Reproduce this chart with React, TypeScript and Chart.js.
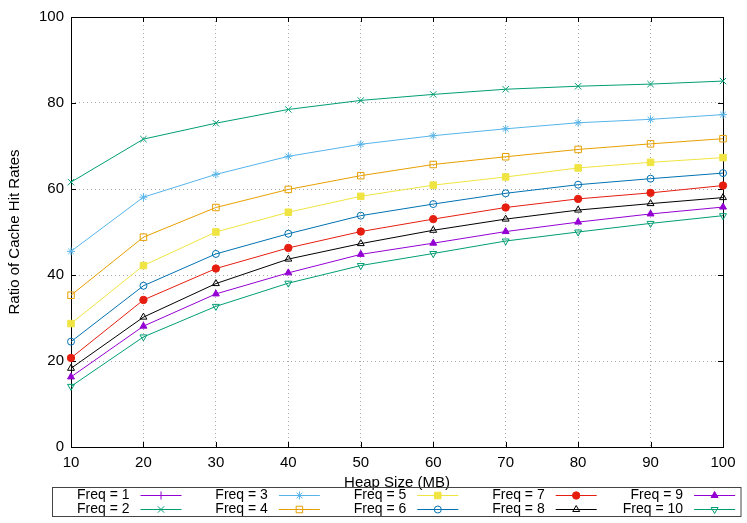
import React, { useRef, useEffect } from 'react'
import { Chart, registerables } from 'chart.js'
import { drawPoint } from 'chart.js/helpers'

Chart.register(...registerables)

// heap sizes in MB (x axis)
const heapSizes = [10, 20, 30, 40, 50, 60, 70, 80, 90, 100]

// cache hit ratios per frequency threshold
const freq1: (number | null)[] = [null, null, null, null, null, null, null, null, null, null]
const freq2 = [61.6, 71.6, 75.3, 78.5, 80.6, 82.0, 83.2, 83.9, 84.4, 85.1]
const freq3 = [45.5, 58.1, 63.4, 67.6, 70.4, 72.4, 74.0, 75.4, 76.2, 77.3]
const freq4 = [35.3, 48.8, 55.7, 59.9, 63.1, 65.7, 67.5, 69.2, 70.5, 71.7]
const freq5 = [28.7, 42.2, 50.0, 54.6, 58.3, 60.9, 62.8, 64.9, 66.2, 67.3]
const freq6 = [24.5, 37.5, 44.9, 49.6, 53.8, 56.5, 59.0, 61.0, 62.4, 63.7]
const freq7 = [20.7, 34.2, 41.5, 46.3, 50.1, 53.0, 55.7, 57.7, 59.1, 60.8]
const freq8 = [18.3, 30.2, 38.0, 43.7, 47.3, 50.4, 53.0, 55.1, 56.6, 58.0]
const freq9 = [16.3, 28.1, 35.6, 40.5, 44.8, 47.4, 50.1, 52.3, 54.2, 55.8]
const freq10 = [14.1, 25.6, 32.7, 38.1, 42.2, 45.0, 47.9, 50.0, 52.0, 53.8]

const yTicks = [0, 20, 40, 60, 80, 100]

const FONT = '"Liberation Sans", Arial, sans-serif'

const mk = (
  label: string,
  data: (number | null)[],
  color: string,
  pointStyle: string,
  filled: boolean,
  radius: number,
  rotation = 0,
) => ({
  label,
  data,
  borderColor: color,
  backgroundColor: color,
  borderWidth: 1,
  pointStyle,
  pointRotation: rotation,
  pointRadius: radius,
  pointBorderWidth: 1,
  pointBorderColor: color,
  pointBackgroundColor: filled ? color : 'rgba(0,0,0,0)',
  tension: 0,
  fill: false,
  clip: false as const,
})

// gnuplot-style legend box under the plot
const legendPlugin = {
  id: 'boxLegend',
  afterDraw(chart: any) {
    const ctx = chart.ctx
    ctx.save()
    ctx.lineWidth = 1
    ctx.strokeStyle = '#444'
    ctx.strokeRect(52.5, 487.5, 688.5, 29)
    ctx.font = `14px ${FONT}`
    ctx.textAlign = 'right'
    ctx.textBaseline = 'middle'
    chart.data.datasets.forEach((ds: any, i: number) => {
      const col = Math.floor(i / 2)
      const row = i % 2
      const xr = 129.5 + col * 138.4
      const y = 495.5 + row * 14
      ctx.fillStyle = '#000'
      ctx.fillText(ds.label, xr, y)
      ctx.strokeStyle = ds.borderColor
      ctx.beginPath()
      ctx.moveTo(xr + 11, y)
      ctx.lineTo(xr + 52, y)
      ctx.stroke()
      ctx.fillStyle = ds.pointBackgroundColor
      ctx.strokeStyle = ds.pointBorderColor
      drawPoint(
        ctx,
        { pointStyle: ds.pointStyle, rotation: ds.pointRotation, radius: ds.pointRadius, borderWidth: 1 } as any,
        xr + 31.5,
        y,
      )
    })
    ctx.restore()
  },
}

// plot border with inward tick marks
const framePlugin = {
  id: 'frame',
  beforeDatasetsDraw(chart: any) {
    const { ctx, chartArea: a, scales } = chart
    ctx.save()
    ctx.strokeStyle = '#000'
    ctx.lineWidth = 1
    const tl = 5
    ctx.beginPath()
    scales.x.ticks.forEach((_t: any, i: number) => {
      const px = Math.round(scales.x.getPixelForTick(i)) + 0.5
      ctx.moveTo(px, a.bottom)
      ctx.lineTo(px, a.bottom - tl)
      ctx.moveTo(px, a.top)
      ctx.lineTo(px, a.top + tl)
    })
    scales.y.ticks.forEach((t: any) => {
      const py = Math.round(scales.y.getPixelForValue(t.value)) + 0.5
      ctx.moveTo(a.left, py)
      ctx.lineTo(a.left + tl, py)
      ctx.moveTo(a.right, py)
      ctx.lineTo(a.right - tl, py)
    })
    ctx.stroke()
    ctx.strokeRect(Math.round(a.left) + 0.5, Math.round(a.top) + 0.5, Math.round(a.right - a.left), Math.round(a.bottom - a.top))
    ctx.restore()
  },
}

export default function App() {
  const chartRef = useRef<HTMLCanvasElement>(null)

  useEffect(() => {
    if (!chartRef.current) return
    const ctx = chartRef.current.getContext('2d')
    if (!ctx) return
    const chart = new Chart(ctx, {
      type: 'line',
      data: {
        labels: heapSizes,
        datasets: [
          mk('Freq = 1', freq1, '#9400d3', 'cross', false, 4),
          mk('Freq = 2', freq2, '#009e73', 'crossRot', false, 4.5),
          mk('Freq = 3', freq3, '#56b4e9', 'star', false, 4),
          mk('Freq = 4', freq4, '#e69f00', 'rect', false, 4.6),
          mk('Freq = 5', freq5, '#f0e442', 'rect', true, 4.6),
          mk('Freq = 6', freq6, '#0072b2', 'circle', false, 3.5),
          mk('Freq = 7', freq7, '#e51e10', 'circle', true, 3.7),
          mk('Freq = 8', freq8, '#000000', 'triangle', false, 4),
          mk('Freq = 9', freq9, '#9400d3', 'triangle', true, 4),
          mk('Freq = 10', freq10, '#009e73', 'triangle', false, 4, 180),
        ] as any,
      },
      options: {
        animation: false,
        responsive: true,
        maintainAspectRatio: false,
        layout: { padding: { top: 17, right: 24, bottom: 31, left: 0 } },
        plugins: {
          legend: { display: false },
          tooltip: { enabled: false },
        },
        scales: {
          x: {
            type: 'category',
            offset: false,
            grid: { color: '#a8a8a8', drawTicks: false },
            border: { display: false, dash: [1, 3] },
            ticks: { color: '#000', padding: 7, maxRotation: 0, font: { family: FONT, size: 15 } },
            title: {
              display: true,
              text: 'Heap Size (MB)',
              color: '#000',
              font: { family: FONT, size: 15 },
              padding: { top: 0, bottom: 0 },
            },
            afterFit: (s: any) => {
              s.height = 45
            },
          },
          y: {
            min: 0,
            max: 100,
            afterBuildTicks: (s: any) => {
              s.ticks = yTicks.map((v) => ({ value: v }))
            },
            grid: { color: '#a8a8a8', drawTicks: false },
            border: { display: false, dash: [1, 3] },
            ticks: { color: '#000', padding: 7, font: { family: FONT, size: 15 } },
            title: {
              display: true,
              text: 'Ratio of Cache Hit Rates',
              color: '#000',
              font: { family: FONT, size: 15 },
              padding: { top: 6, bottom: 0 },
            },
            afterFit: (s: any) => {
              s.width = 71
            },
          },
        },
      },
      plugins: [framePlugin, legendPlugin],
    })
    return () => {
      chart.destroy()
    }
  }, [])

  return (
    <div style={{ position: 'fixed', left: 0, top: 0, width: '100vw', height: '100vh', background: '#fff' }}>
      <canvas ref={chartRef}></canvas>
    </div>
  )
}
